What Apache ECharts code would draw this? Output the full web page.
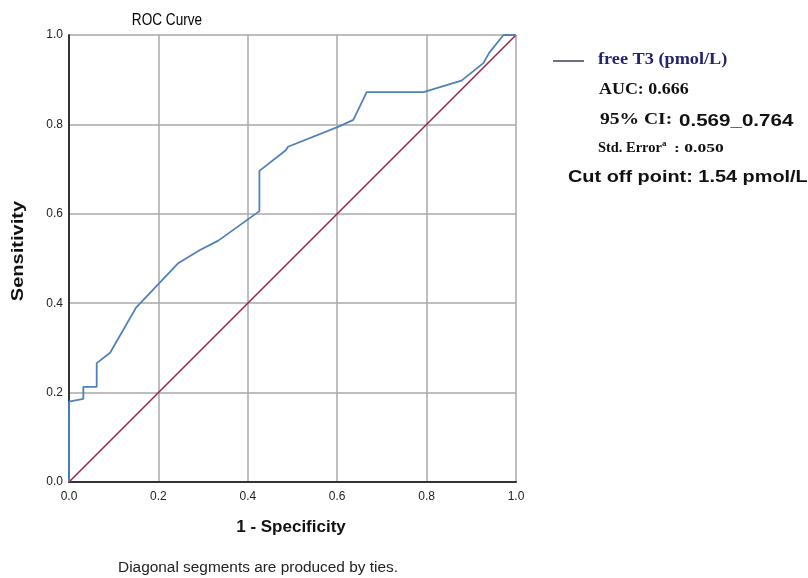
<!DOCTYPE html>
<html>
<head>
<meta charset="utf-8">
<script src="https://cdn.jsdelivr.net/npm/echarts@6/dist/echarts.min.js"></script>
<style>html,body{margin:0;padding:0;background:#fff;}#c{width:808px;height:578px;}</style>
</head>
<body>
<div id="c"></div>
<script>
// ROC curve points (1 - Specificity, Sensitivity)
const fpr = [0, 0, 0.032, 0.032, 0.062, 0.062, 0.092, 0.15, 0.245, 0.293, 0.334, 0.426, 0.426, 0.485, 0.49, 0.606, 0.636, 0.666, 0.793, 0.878, 0.927, 0.94, 0.972, 1.0];
const tpr = [0, 0.18, 0.186, 0.213, 0.213, 0.266, 0.289, 0.39, 0.49, 0.519, 0.54, 0.606, 0.696, 0.742, 0.75, 0.796, 0.81, 0.872, 0.872, 0.898, 0.937, 0.96, 1.0, 1.0];
const refX = [0, 1];
const refY = [0, 1];
const seriesName = 'free T3 (pmol/L)';
const auc = '0.666';
const ciText = '0.569_0.764';
const stdErr = '0.050';
const cutOff = '1.54 pmol/L';

const chart = echarts.init(document.getElementById('c'), null, {renderer: 'canvas'});
const curve = fpr.map((v, i) => [v, tpr[i]]);
const diag = refX.map((v, i) => [v, refY[i]]);

const option = {
  backgroundColor: '#ffffff',
  animation: false,
  grid: {left: 69, top: 35, width: 447, height: 447},
  xAxis: {
    type: 'value', min: 0, max: 1, interval: 0.2,
    axisLine: {show: true, lineStyle: {color: '#333', width: 2}},
    axisTick: {show: false},
    axisLabel: {color: '#222', fontSize: 12, fontFamily: 'Arial, Liberation Sans', margin: 9, formatter: v => v.toFixed(1)},
    splitLine: {show: true, lineStyle: {color: '#a8a8a8', width: 1.5}}
  },
  yAxis: {
    type: 'value', min: 0, max: 1, interval: 0.2,
    axisLine: {show: true, lineStyle: {color: '#333', width: 2}},
    axisTick: {show: false},
    axisLabel: {color: '#222', fontSize: 12, fontFamily: 'Arial, Liberation Sans', margin: 6, formatter: v => v.toFixed(1)},
    splitLine: {show: true, lineStyle: {color: '#a8a8a8', width: 1.5}}
  },
  series: [
    {type: 'line', data: diag, symbol: 'none', lineStyle: {color: '#952242', width: 1.5}, z: 3},
    {type: 'line', name: seriesName, data: curve, symbol: 'none', lineStyle: {color: '#4f82b9', width: 1.8}, z: 4}
  ],
  graphic: [
    {type: 'text', x: 167, y: 20, style: {text: 'ROC Curve', font: '17px Arial, Liberation Sans', fill: '#000', textAlign: 'center', textVerticalAlign: 'middle'}, scaleX: 0.8},
    {type: 'text', x: 18, y: 251, rotation: Math.PI / 2, style: {text: 'Sensitivity', font: 'bold 17px Arial, Liberation Sans', fill: '#111', textAlign: 'center', textVerticalAlign: 'middle'}, scaleX: 1.18},
    {type: 'text', x: 291, y: 527, style: {text: '1 - Specificity', font: 'bold 17px Arial, Liberation Sans', fill: '#111', textAlign: 'center', textVerticalAlign: 'middle'}},
    {type: 'text', x: 258, y: 568, style: {text: 'Diagonal segments are produced by ties.', font: '14px Arial, Liberation Sans', fill: '#222', textAlign: 'center', textVerticalAlign: 'middle'}, scaleX: 1.1},
    {type: 'line', shape: {x1: 553, y1: 61, x2: 584, y2: 61}, style: {stroke: '#3b3b5c', lineWidth: 1.5}},
    {type: 'text', x: 598, y: 60, style: {text: seriesName, font: 'bold 16px "Liberation Serif", "Times New Roman", serif', fill: '#24246e', textVerticalAlign: 'middle'}, scaleX: 1.14},
    {type: 'text', x: 599, y: 90, style: {text: 'AUC: ' + auc, font: 'bold 16px "Liberation Serif", "Times New Roman", serif', fill: '#111', textVerticalAlign: 'middle'}, scaleX: 1.12},
    {type: 'text', x: 600, y: 120, style: {text: '95% CI:', font: 'bold 17px "Liberation Serif", "Times New Roman", serif', fill: '#111', textVerticalAlign: 'middle'}, scaleX: 1.15},
    {type: 'text', x: 679, y: 121, style: {text: ciText, font: 'bold 17px Arial, Liberation Sans', fill: '#111', textVerticalAlign: 'middle'}, scaleX: 1.21},
    {type: 'text', x: 598, y: 148, style: {text: 'Std. Error', font: 'bold 14px "Liberation Serif", "Times New Roman", serif', fill: '#111', textVerticalAlign: 'middle'}, scaleX: 1.03},
    {type: 'text', x: 662, y: 144, style: {text: 'a', font: 'bold 9px "Liberation Serif", "Times New Roman", serif', fill: '#111', textVerticalAlign: 'middle'}},
    {type: 'text', x: 674, y: 149, style: {text: ': ' + stdErr, font: 'bold 13px "Liberation Serif", "Times New Roman", serif', fill: '#111', textVerticalAlign: 'middle'}, scaleX: 1.35},
    {type: 'text', x: 568, y: 177, style: {text: 'Cut off point: ' + cutOff, font: 'bold 17px Arial, Liberation Sans', fill: '#111', textVerticalAlign: 'middle'}, scaleX: 1.17}
  ]
};
chart.setOption(option);
</script>
</body>
</html>
